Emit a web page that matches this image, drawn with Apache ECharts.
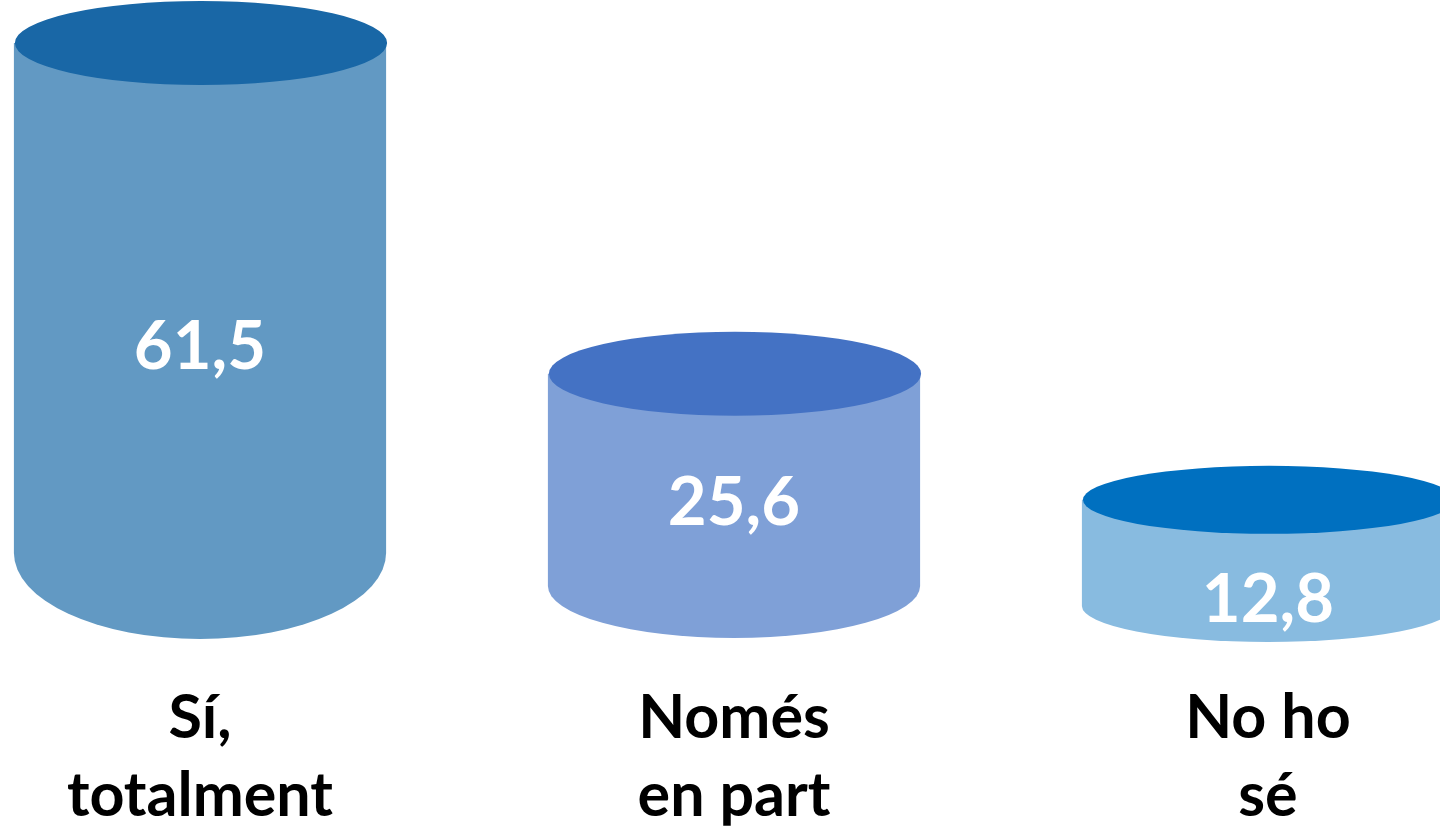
<!DOCTYPE html>
<html>
<head>
<meta charset="utf-8">
<script src="https://cdn.jsdelivr.net/npm/echarts@6/dist/echarts.min.js"></script>
<style>
  html, body { margin: 0; padding: 0; background: #ffffff; }
  #chart { width: 1440px; height: 829px; }
</style>
</head>
<body>
<div id="chart"></div>
<script>
// data
var categories = ['Sí,\ntotalment', 'Només\nen part', 'No ho\nsé']
var values = [61.5, 25.6, 12.8]
var valueLabels = ['61,5', '25,6', '12,8']

// looks of each cylinder (colours + fake perspective)
var bodyColors = ['#6299C3', '#7FA0D7', '#88BBE0']
var topColors = ['#1967A6', '#4472C4', '#0070C0']
var depthShift = [0, 33, 53]      // px the base is pushed down
var topRy = [42, 42, 34]
var bottomRy = [86, 52, 36]
var labelShift = [49, 24, 47]

var chart = echarts.init(document.getElementById('chart'))

function ellipsePath(cx, cy, rx, ry) {
  return 'M' + (cx - rx) + ' ' + cy +
    ' A' + rx + ' ' + ry + ' 0 1 0 ' + (cx + rx) + ' ' + cy +
    ' A' + rx + ' ' + ry + ' 0 1 0 ' + (cx - rx) + ' ' + cy + ' Z'
}

function renderCylinder(params, api) {
  var i = params.dataIndex
  var v = api.value(1)
  var top = api.coord([api.value(0), v])
  var base = api.coord([api.value(0), 0])
  var mid = api.coord([api.value(0), v / 2])
  var dy = depthShift[i]
  var cx = top[0]
  var rx = api.size([1, 0])[0] * 0.697 / 2
  var yTop = top[1] + dy
  var yBot = base[1] + dy
  var br = bottomRy[i]
  // body: sides + lower half of bottom ellipse
  var body = 'M' + (cx - rx) + ' ' + yTop +
    ' L' + (cx - rx) + ' ' + yBot +
    ' A' + rx + ' ' + br + ' 0 0 0 ' + (cx + rx) + ' ' + yBot +
    ' L' + (cx + rx) + ' ' + yTop + ' Z'
  return {
    type: 'group',
    children: [
      { type: 'path', shape: { pathData: body }, style: { fill: bodyColors[i] } },
      { type: 'path', shape: { pathData: ellipsePath(cx + 1, yTop, rx, topRy[i]) }, style: { fill: topColors[i] } },
      {
        type: 'text',
        x: cx,
        y: mid[1] + dy + labelShift[i],
        style: {
          text: valueLabels[i],
          fill: '#ffffff',
          font: 'bold 67px Lato, "Open Sans", sans-serif',
          align: 'center',
          verticalAlign: 'middle'
        }
      }
    ]
  }
}

var option = {
  animation: false,
  grid: {
    left: -67,
    width: 1602,
    top: 43,
    bottom: 276,
    outerBoundsMode: 'none',
    containLabel: false
  },
  xAxis: {
    type: 'category',
    data: categories,
    axisLine: { show: false },
    axisTick: { show: false },
    axisLabel: {
      margin: 126,
      fontFamily: 'Lato, "Open Sans", sans-serif',
      fontWeight: 'bold',
      fontSize: 61,
      lineHeight: 78,
      color: '#000000',
      interval: 0
    }
  },
  yAxis: {
    type: 'value',
    min: 0,
    max: 61.5,
    show: false
  },
  series: [
    {
      type: 'custom',
      renderItem: renderCylinder,
      data: values.map(function (v, i) { return [i, v] }),
      clip: false
    }
  ]
}

chart.setOption(option)
</script>
</body>
</html>
